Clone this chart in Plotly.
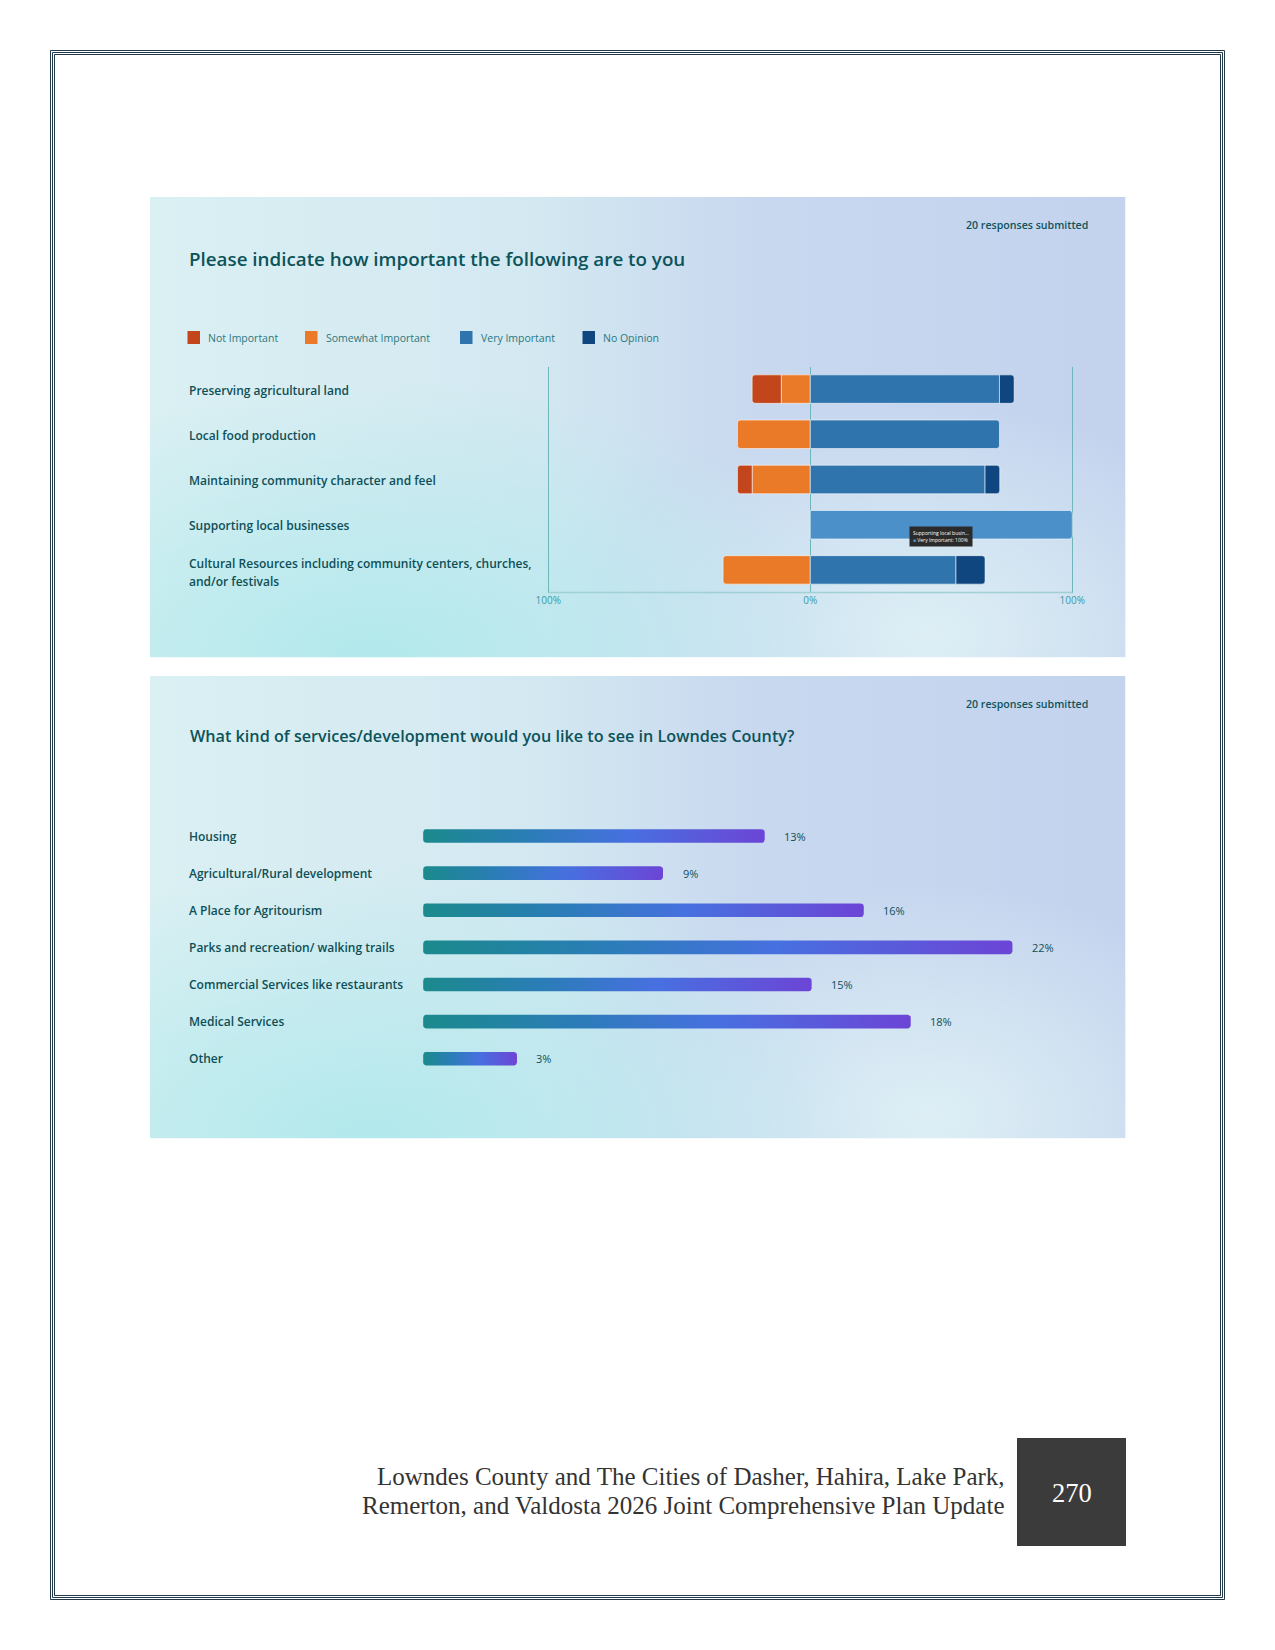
import math
import plotly.graph_objects as go

W, H = 1275, 1650

# ---------------- data: chart 1 (diverging stacked bars, % of responses) ----------------
imp_title = "Please indicate how important the following are to you"
imp_note = "20 responses submitted"
imp_categories = [
    "Preserving agricultural land",
    "Local food production",
    "Maintaining community character and feel",
    "Supporting local businesses",
    "Cultural Resources including community centers, churches,<br>and/or festivals",
]
imp_series = ["Not Important", "Somewhat Important", "Very Important", "No Opinion"]
not_important = [11.1, None, 5.6, None, None]
somewhat_important = [11.1, 27.8, 22.2, None, 33.3]
very_important = [72.2, 72.2, 66.7, 100.0, 55.6]
no_opinion = [5.6, None, 5.6, None, 11.1]
imp_tick_vals = [-100, 0, 100]
imp_tick_text = ["100%", "0%", "100%"]
tooltip_lines = ["Supporting local busin...", "Very Important: 100%"]

# ---------------- data: chart 2 (horizontal bars, share of selections) ----------------
svc_title = "What kind of services/development would you like to see in Lowndes County?"
svc_note = "20 responses submitted"
svc_categories = [
    "Housing",
    "Agricultural/Rural development",
    "A Place for Agritourism",
    "Parks and recreation/ walking trails",
    "Commercial Services like restaurants",
    "Medical Services",
    "Other",
]
svc_share = [13.1, 9.2, 16.9, 22.6, 14.9, 18.7, 3.6]
svc_labels = ["13%", "9%", "16%", "22%", "15%", "18%", "3%"]

footer_lines = [
    "Lowndes County and The Cities of Dasher, Hahira, Lake Park,",
    "Remerton, and Valdosta 2026 Joint Comprehensive Plan Update",
]
page_number = "270"

# ---------------- styles ----------------
FONT = "Open Sans"
SERIF = "Liberation Serif"
COLORS = {
    "Not Important": "#c2451b",
    "Somewhat Important": "#ea7a28",
    "Very Important": "#2f74ad",
    "No Opinion": "#0f467f",
}
HOVER_COLOR = "#4b90c9"
TITLE_COLOR = "#0c535a"
LABEL_COLOR = "#0e4f57"
LEGEND_TEXT = "#2a7880"
TICK_COLOR = "#3b9ba3"
GRID_COLOR = "#6fb6bc"
FRAME_COLOR = "#22394a"
BAR_SCALE = [[0, "#1b8a8c"], [0.3, "#2a7db6"], [0.6, "#4770e0"], [1, "#6c45d6"]]
LABEL_X = 186.5


def px(x):
    return x / W


def py(y):
    return 1 - y / H


fig = go.Figure()
layout = {}

# ---------------- panel backgrounds (axes 1 & 2 span the panels) ----------------
panels = [(150, 1125.5, 196.7, 657.3), (150, 1125.5, 676, 1138.3)]
for k, (x0, x1, y0, y1) in enumerate(panels, start=1):
    sx = "" if k == 1 else str(k)
    layout["xaxis" + sx] = dict(domain=[px(x0), px(x1)], range=[0, 1], visible=False,
                                fixedrange=True, anchor="y" + sx)
    layout["yaxis" + sx] = dict(domain=[py(y1), py(y0)], range=[0, 1], visible=False,
                                fixedrange=True, anchor="x" + sx)


def grad_poly(xa, ya, x0, x1, y0, y1, gtype, cs):
    return go.Scatter(
        x=[x0, x1, x1, x0, x0], y=[y0, y0, y1, y1, y0], mode="lines", fill="toself",
        line=dict(width=0), fillgradient=dict(type=gtype, colorscale=cs),
        hoverinfo="skip", showlegend=False, xaxis=xa, yaxis=ya,
    )


for k in (1, 2):
    xa = "x" if k == 1 else "x2"
    ya = "y" if k == 1 else "y2"
    fig.add_trace(grad_poly(xa, ya, 0, 1, 0, 1, "horizontal",
                            [[0, "#dbf0f3"], [0.4, "#d3e8f1"], [0.62, "#c8d8ef"], [1, "#c3d3ee"]]))
    fig.add_trace(grad_poly(xa, ya, 0.45, 1.15, -0.45, 0.55, "radial",
                            [[0, "rgba(224,242,246,0.9)"], [1, "rgba(224,242,246,0)"]]))
    fig.add_trace(grad_poly(xa, ya, -0.3, 0.75, -0.6, 0.6, "radial",
                            [[0, "rgba(176,233,236,0.95)"], [1, "rgba(176,233,236,0)"]]))

# ---------------- chart 1 ----------------
PX_PER_PCT = (1072.3 - 548.3) / 200.0
PAD = 1.0
layout["xaxis3"] = dict(
    domain=[px(548.3 - PAD * PX_PER_PCT), px(1072.3 + PAD * PX_PER_PCT)],
    range=[-100 - PAD, 100 + PAD], anchor="y3",
    tickvals=imp_tick_vals, ticktext=imp_tick_text, ticks="",
    tickfont=dict(family=FONT, size=10, color=TICK_COLOR),
    showgrid=True, gridcolor=GRID_COLOR, gridwidth=1, zeroline=False,
    showline=False, fixedrange=True,
)
layout["yaxis3"] = dict(
    domain=[py(592.5), py(366.5)], range=[4.5, -0.5], anchor="x3",
    showticklabels=False, showgrid=False, zeroline=False, fixedrange=True,
)

rows = list(range(len(imp_categories)))
series_values = {
    "Not Important": [None if v is None else -v for v in not_important],
    "Somewhat Important": [None if v is None else -v for v in somewhat_important],
    "Very Important": very_important,
    "No Opinion": no_opinion,
}
# trace order sets stacking: innermost segments first
for name in ["Somewhat Important", "Not Important", "Very Important", "No Opinion"]:
    vals = series_values[name]
    if name == "Very Important":
        colors = [HOVER_COLOR if i == 3 else COLORS[name] for i in rows]
    else:
        colors = COLORS[name]
    fig.add_trace(go.Bar(
        x=vals, y=rows, orientation="h", name=name, width=0.63,
        marker=dict(color=colors, line=dict(color="rgba(255,255,255,0.55)", width=1)),
        xaxis="x3", yaxis="y3", showlegend=False, hoverinfo="skip",
    ))

annotations = []
shapes = []

# bottom axis line of chart 1 (between the outer gridlines)
shapes.append(dict(type="line", xref="x3", yref="y3 domain", x0=imp_tick_vals[0],
                   x1=imp_tick_vals[-1], y0=0, y1=0, line=dict(color="#9fd0d4", width=1.5)))

annotations.append(dict(xref="paper", yref="paper", x=px(LABEL_X), y=py(259.5), xanchor="left",
                        yanchor="middle", text=imp_title, showarrow=False,
                        font=dict(family=FONT, size=18.8, color=TITLE_COLOR, weight=600)))
annotations.append(dict(xref="paper", yref="paper", x=px(1089.5), y=py(225), xanchor="right",
                        yanchor="middle", text=imp_note, showarrow=False,
                        font=dict(family=FONT, size=10.6, color=TITLE_COLOR, weight=600)))


def add_category_label(text, yref, yval, base_shift):
    parts = text.split("<br>")
    n = len(parts)
    for j, part in enumerate(parts):
        shift = 0 if n == 1 else -((j - (n - 1) / 2) * 18 + 2)
        annotations.append(dict(xref="paper", yref=yref, x=px(LABEL_X), y=yval, xanchor="left",
                                yanchor="middle", text=part, showarrow=False,
                                yshift=shift + base_shift,
                                font=dict(family=FONT, size=12, color=LABEL_COLOR, weight=600)))


for i, cat in enumerate(imp_categories):
    add_category_label(cat, "y3", i, -1)

# legend (manual, to match placement)
legend_x = [187.5, 305, 460, 582.5]
for name, lx in zip(imp_series, legend_x):
    shapes.append(dict(type="rect", xref="paper", yref="paper", x0=px(lx), x1=px(lx + 12.5),
                       y0=py(344), y1=py(331), fillcolor=COLORS[name], line=dict(width=0)))
    annotations.append(dict(xref="paper", yref="paper", x=px(lx + 18.5), y=py(338),
                            xanchor="left", yanchor="middle", text=name, showarrow=False,
                            font=dict(family=FONT, size=10.5, color=LEGEND_TEXT)))

# hover tooltip shown in the screenshot
annotations.append(dict(
    xref="paper", yref="paper", x=px(941), y=py(536), xanchor="center", yanchor="middle",
    text=tooltip_lines[0] + "<br><span style='color:%s'>■</span> " % HOVER_COLOR + tooltip_lines[1],
    showarrow=False, align="left", bgcolor="#2b2b2b", borderpad=3,
    font=dict(family=FONT, size=5, color="white"),
))

# ---------------- chart 2 ----------------
layout["xaxis4"] = dict(domain=[px(423.1), px(1075)], range=[0, 25], anchor="y4",
                        visible=False, fixedrange=True)
layout["yaxis4"] = dict(domain=[py(1077.25), py(817.45)], range=[6.5, -0.5], anchor="x4",
                        visible=False, fixedrange=True)

PX_PER_X = (1075 - 423.1) / 25.0
PX_PER_Y = (1077.25 - 817.45) / 7.0
half_h = 6.8 / PX_PER_Y
rx = 3.0 / PX_PER_X
ry = 3.0 / PX_PER_Y


def rounded_bar(v, yc):
    xs, ys = [], []
    corners = [
        (rx, yc - half_h + ry, 180, 270),
        (v - rx, yc - half_h + ry, 270, 360),
        (v - rx, yc + half_h - ry, 0, 90),
        (rx, yc + half_h - ry, 90, 180),
    ]
    for cx, cy, a0, a1 in corners:
        for s in range(7):
            a = math.radians(a0 + (a1 - a0) * s / 6)
            xs.append(cx + rx * math.cos(a))
            ys.append(cy + ry * math.sin(a))
    xs.append(xs[0])
    ys.append(ys[0])
    return xs, ys


for i, (cat, v, lab) in enumerate(zip(svc_categories, svc_share, svc_labels)):
    bx, by = rounded_bar(v, i)
    fig.add_trace(go.Scatter(
        x=bx, y=by, mode="lines", fill="toself", line=dict(width=0),
        fillgradient=dict(type="horizontal", colorscale=BAR_SCALE),
        xaxis="x4", yaxis="y4", hoverinfo="skip", showlegend=False,
    ))
    add_category_label(cat, "y4", i, 0)
    annotations.append(dict(xref="x4", yref="y4", x=v, y=i, xanchor="left", xshift=17.5,
                            yanchor="middle", text=lab, showarrow=False,
                            font=dict(family=FONT, size=11, color=LABEL_COLOR)))

annotations.append(dict(xref="paper", yref="paper", x=px(LABEL_X + 1), y=py(736.5), xanchor="left",
                        yanchor="middle", text=svc_title, showarrow=False,
                        font=dict(family=FONT, size=16.2, color=TITLE_COLOR, weight=600)))
annotations.append(dict(xref="paper", yref="paper", x=px(1089.5), y=py(704.3), xanchor="right",
                        yanchor="middle", text=svc_note, showarrow=False,
                        font=dict(family=FONT, size=10.6, color=TITLE_COLOR, weight=600)))

# ---------------- page frame & footer ----------------
for (a, b, c, d) in [(50.5, 1224.5, 50.5, 1599.5), (52.5, 1222.5, 52.5, 1597.5), (54.5, 1220.5, 54.5, 1595.5)]:
    shapes.append(dict(type="rect", xref="paper", yref="paper", x0=px(a), x1=px(b),
                       y0=py(d), y1=py(c), line=dict(color=FRAME_COLOR, width=1),
                       fillcolor="rgba(0,0,0,0)", layer="above"))

shapes.append(dict(type="rect", xref="paper", yref="paper", x0=px(1017), x1=px(1126),
                   y0=py(1546), y1=py(1438), fillcolor="#3b3b3b", line=dict(width=0)))
annotations.append(dict(xref="paper", yref="paper", x=px(1071.5), y=py(1493), xanchor="center",
                        yanchor="middle", text=page_number, showarrow=False,
                        font=dict(family=SERIF, size=26.5, color="white")))
for line, yc in zip(footer_lines, [1476.5, 1505]):
    annotations.append(dict(xref="paper", yref="paper", x=px(1007), y=py(yc), xanchor="right",
                            yanchor="middle", text=line, showarrow=False,
                            font=dict(family=SERIF, size=25, color="#333333")))

fig.update_layout(
    width=W, height=H, margin=dict(l=0, r=0, t=0, b=0, pad=0, autoexpand=False),
    paper_bgcolor="white", plot_bgcolor="rgba(0,0,0,0)",
    showlegend=False, barmode="relative", barcornerradius=3,
    annotations=annotations, shapes=shapes, **layout,
)

fig.write_html("out.html")
